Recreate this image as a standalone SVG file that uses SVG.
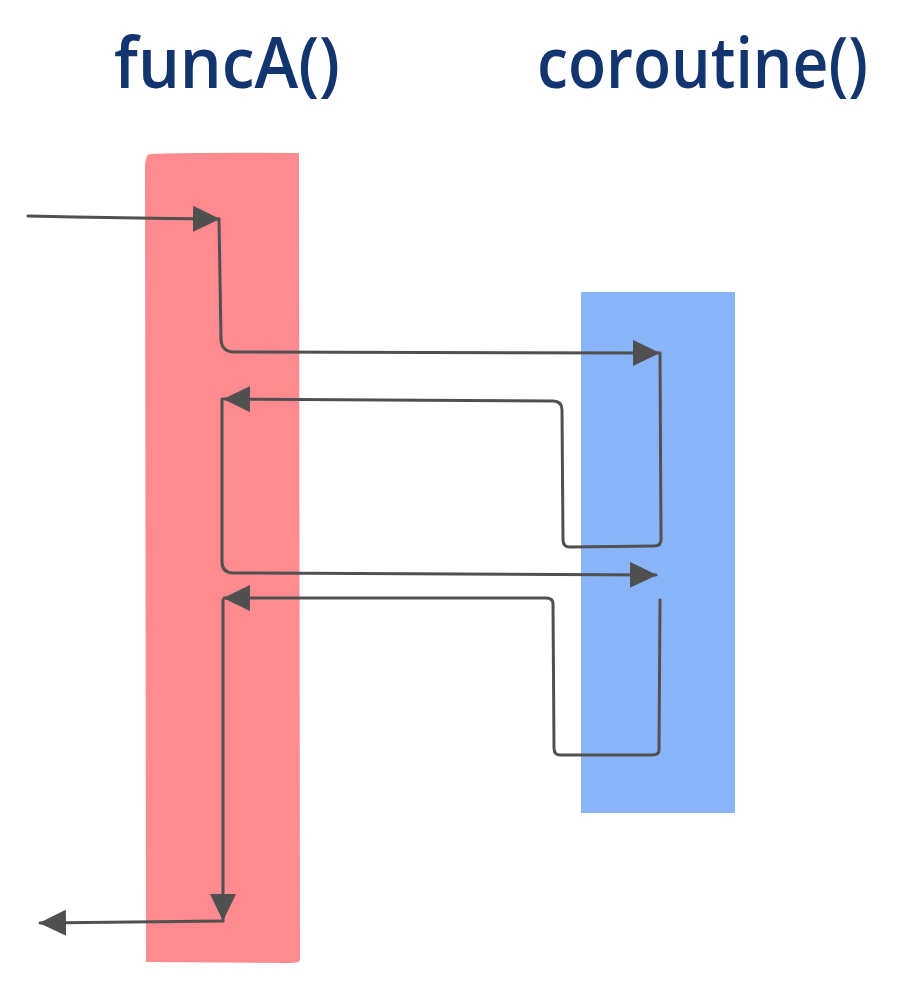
<svg xmlns="http://www.w3.org/2000/svg" width="908" height="988" viewBox="0 0 908 988">
<style>
.title{font-family:"Open Sans","DejaVu Sans",sans-serif;font-size:70px;font-weight:600;fill:#12346f;}
.flow{fill:none;stroke:#505050;stroke-width:3;stroke-linecap:round;stroke-linejoin:round;}
</style>
<defs>
<marker id="ah" viewBox="0 0 27 26" refX="26" refY="13" markerWidth="27" markerHeight="26" markerUnits="userSpaceOnUse" orient="auto">
<path d="M0,0 L27,13 L0,26 Z" fill="#505050"/>
</marker>
</defs>
<rect width="908" height="988" fill="#ffffff"/>
<g id="funcA">
<path d="M150,154 Q200,152 299,153 L300,960 Q300,963 290,963 L146,962 L145,165 Q146,154 150,154 Z" fill="#ff8a8f"/>
<text class="title" x="114" y="88" textLength="226" lengthAdjust="spacingAndGlyphs">funcA()</text>
</g>
<g id="coroutine">
<rect x="581" y="292" width="154" height="521" fill="#8ab4f8"/>
<text class="title" x="537" y="88" textLength="331" lengthAdjust="spacingAndGlyphs">coroutine()</text>
</g>
<g id="connectors">
<path class="flow" d="M28,216 Q120,218 219,219" marker-end="url(#ah)"/>
<path class="flow" d="M219,219 L221,340 Q222,352 234,352 L659,353" marker-end="url(#ah)"/>
<path class="flow" d="M660,353 L661,540 Q661,546 654,546 L570,547 Q563,547 563,540 L562,410 Q562,401 553,401 L224,399" marker-end="url(#ah)"/>
<path class="flow" d="M222,399 L222,562 Q222,573 234,573 L656,575" marker-end="url(#ah)"/>
<path class="flow" d="M660,600 L659,750 Q659,755 652,755 L560,755 Q554,755 554,748 L553,604 Q553,598 546,598 L224,598" marker-end="url(#ah)"/>
<path class="flow" d="M223,600 L223,920" marker-end="url(#ah)"/>
<path class="flow" d="M223,921 L40,923" marker-end="url(#ah)"/>
</g>
</svg>
